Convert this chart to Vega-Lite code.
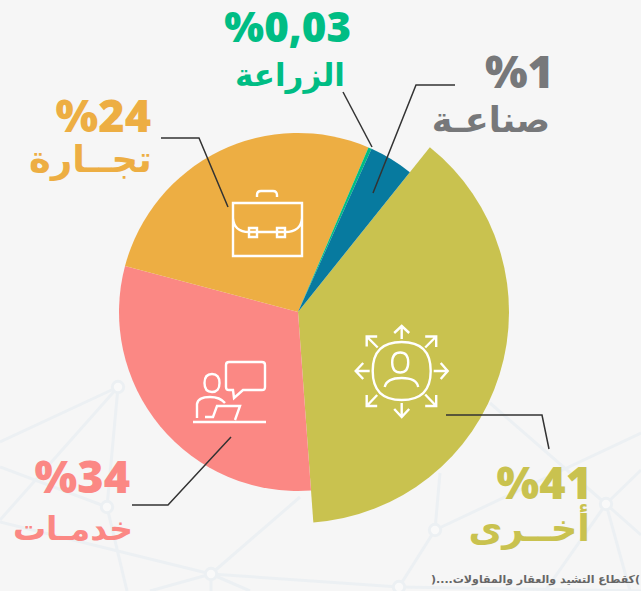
{"$schema":"https://vega.github.io/schema/vega-lite/v6.json","width":641,"height":591,"padding":0,"autosize":"none","background":"#f6f6f6","config":{"view":{"stroke":null},"axis":{"disable":true}},
"datasets":{
"slices":[{"name":"أخرى","share":41,"drawn":38.1,"rank":1},{"name":"خدمات","share":34,"drawn":30.3,"rank":2},{"name":"تجارة","share":24,"drawn":27.3,"rank":3},{"name":"الزراعة","share":0.03,"drawn":0.3,"rank":4},{"name":"صناعة","share":1,"drawn":4,"rank":5}],
"pct":[{"name":"أخرى","t":"%41","a":592,"b":499},{"name":"خدمات","t":"%34","a":130,"b":493},{"name":"تجارة","t":"%24","a":151,"b":132},{"name":"الزراعة","t":"%0,03","a":351,"b":42},{"name":"صناعة","t":"%1","a":554,"b":88}],
"names":[{"name":"أخرى","t":"أخــرى","a":590,"b":541},{"name":"خدمات","t":"خدمـات","a":133,"b":540},{"name":"تجارة","t":"تجــارة","a":152,"b":172},{"name":"الزراعة","t":"الزراعة","a":345,"b":86},{"name":"صناعة","t":"صناعـة","a":550,"b":132}],
"leaders":[{"k":"a","i":1,"a":446,"b":415},{"k":"a","i":2,"a":542,"b":415},{"k":"a","i":3,"a":549,"b":449},{"k":"b","i":1,"a":132,"b":505},{"k":"b","i":2,"a":168,"b":505},{"k":"b","i":3,"a":231,"b":437},{"k":"c","i":1,"a":161,"b":138},{"k":"c","i":2,"a":199,"b":138},{"k":"c","i":3,"a":228,"b":207},{"k":"d","i":1,"a":343,"b":92},{"k":"d","i":2,"a":372,"b":147},{"k":"e","i":1,"a":455,"b":85},{"k":"e","i":2,"a":416,"b":85},{"k":"e","i":3,"a":373,"b":193}],
"net":[{"a":118,"b":387,"a2":0,"b2":442},{"a":118,"b":387,"a2":0,"b2":520},{"a":118,"b":387,"a2":107,"b2":507},{"a":107,"b":507,"a2":0,"b2":467},{"a":107,"b":507,"a2":127,"b2":591},{"a":0,"b":522,"a2":211,"b2":574},{"a":211,"b":574,"a2":300,"b2":497},{"a":211,"b":574,"a2":399,"b2":587},{"a":211,"b":574,"a2":150,"b2":591},{"a":211,"b":574,"a2":250,"b2":591},{"a":211,"b":574,"a2":211,"b2":591},{"a":435,"b":530,"a2":641,"b2":433},{"a":435,"b":530,"a2":440,"b2":473},{"a":435,"b":530,"a2":399,"b2":587},{"a":490,"b":403,"a2":606,"b2":504},{"a":606,"b":504,"a2":641,"b2":470},{"a":606,"b":504,"a2":641,"b2":535},{"a":606,"b":504,"a2":630,"b2":591},{"a":606,"b":504,"a2":545,"b2":591},{"a":399,"b":587,"a2":641,"b2":591}],
"nodes":[{"a":118,"b":387},{"a":107,"b":507},{"a":211,"b":574},{"a":435,"b":530},{"a":606,"b":504},{"a":399,"b":587}],
"icons":[{"name":"تجارة","a":267,"b":223},{"name":"خدمات","a":230,"b":392},{"name":"أخرى","a":401.7,"b":371}],
"note":[{"t":")....كقطاع التشيد والعقار والمقاولات(","a":640,"b":583}]
},
"encoding":{"x":{"field":"a","type":"quantitative","scale":{"domain":[0,641]},"axis":null},"y":{"field":"b","type":"quantitative","scale":{"domain":[591,0]},"axis":null},
"color":{"field":"name","type":"nominal","legend":null,"scale":{"domain":["أخرى","خدمات","تجارة","الزراعة","صناعة"],"range":["#c9c24f","#fb8884","#edae43","#00bd84","#77787a"]}}},
"layer":[
{"data":{"name":"net"},"mark":{"type":"rule","strokeWidth":3},"encoding":{"x2":{"field":"a2"},"y2":{"field":"b2"},"color":{"value":"#ecf0f3"}}},
{"data":{"name":"nodes"},"mark":{"type":"point","filled":true,"strokeWidth":3,"size":130,"opacity":1},"encoding":{"color":{"value":"#f9f9f9"},"stroke":{"value":"#ecf0f3"}}},
{"data":{"name":"slices"},"transform":[{"stack":"drawn","groupby":[],"sort":[{"field":"rank","order":"ascending"}],"as":["t0","t1"]}],"mark":{"type":"arc","x":298,"y":312},"encoding":{"x":null,"y":null,"color":null,"theta":{"field":"t0","type":"quantitative","stack":null,"scale":{"domain":[0,100],"range":[0.675,6.958]}},"theta2":{"field":"t1"},"radius":{"field":"share","type":"quantitative","scale":{"type":"linear","domain":[34,41],"range":[179,211],"clamp":true}},"radius2":{"value":0},"fill":{"field":"name","type":"nominal","legend":null,"scale":{"domain":["أخرى","خدمات","تجارة","الزراعة","صناعة"],"range":["#c9c24f","#fb8884","#edae43","#00bd84","#077a9f"]}}}},
{"data":{"name":"icons"},"mark":{"type":"point","filled":false,"strokeWidth":2.4,"size":10000,"opacity":1,"strokeJoin":"miter"},"encoding":{"color":{"value":"#ffffff"},"shape":{"field":"name","type":"nominal","legend":null,"scale":{"domain":["تجارة","خدمات","أخرى"],"range":["M-.68 -.4 L.7 -.4 L.7 .66 L-.68 .66 Z M-.2 -.52 L-.2 -.56 Q-.2 -.64 -.12 -.64 L.12 -.64 Q.2 -.64 .2 -.56 L.2 -.52 M-.68 -.1 Q-.66 .18 -.36 .18 L.36 .18 Q.68 .18 .7 -.1 M-.36 .1 L-.2 .1 L-.2 .28 L-.36 .28 Z M.2 .1 L.36 .1 L.36 .28 L.2 .28 Z","M-.74 .6 L.72 .6 M-.02 -.6 L.64 -.6 Q.7 -.6 .7 -.54 L.7 -.1 Q.7 -.04 .64 -.04 L.26 -.04 L.08 .12 L.06 -.04 L-.02 -.04 Q-.08 -.04 -.08 -.1 L-.08 -.54 Q-.08 -.6 -.02 -.6 Z M-.51 -.18 Q-.51 -.36 -.36 -.36 Q-.21 -.36 -.21 -.18 Q-.21 0 -.36 0 Q-.51 0 -.51 -.18 Z M-.66 .52 L-.66 .24 Q-.64 .1 -.4 .1 Q-.2 .1 -.1 .22 M-.5 .5 L-.34 .5 L-.26 .28 L.2 .28 L.1 .56","M-.58 0 Q-.58 -.58 0 -.58 Q.58 -.58 .58 0 Q.58 .58 0 .58 Q-.58 .58 -.58 0 Z M-.19 -.17 Q-.19 -.37 -.03 -.37 Q.13 -.37 .13 -.17 Q.13 .03 -.03 .03 Q-.19 .03 -.19 -.17 Z M-.34 .32 Q-.3 .14 0 .14 Q.3 .14 .33 .32 M0 -.64 L0 -.9 M-.15 -.76 L0 -.9 L.15 -.76 M0 .64 L0 .92 M-.15 .76 L0 .92 L.15 .76 M-.64 0 L-.92 0 M-.77 -.16 L-.92 0 L-.77 .16 M.64 0 L.92 0 M.78 -.16 L.92 0 L.78 .16 M-.48 -.47 L-.7 -.69 M-.7 -.49 L-.7 -.69 L-.49 -.69 M.47 -.47 L.69 -.69 M.47 -.69 L.69 -.69 L.69 -.48 M-.49 .48 L-.7 .7 M-.7 .48 L-.7 .7 L-.49 .7 M.47 .47 L.69 .7 M.69 .48 L.69 .7 L.47 .7"]}}}},
{"data":{"name":"leaders"},"mark":{"type":"line","strokeWidth":1.5,"strokeJoin":"miter"},"encoding":{"color":{"value":"#333333"},"detail":{"field":"k"},"order":{"field":"i","type":"quantitative"}}},
{"data":{"name":"pct"},"transform":[{"filter":"datum.t !== '%0,03'"}],"mark":{"type":"text","align":"right","baseline":"alphabetic","font":"Open Sans","fontWeight":800,"fontSize":45},"encoding":{"text":{"field":"t"}}},
{"data":{"name":"pct"},"transform":[{"filter":"datum.t === '%0,03'"}],"mark":{"type":"text","align":"right","baseline":"alphabetic","font":"Open Sans","fontWeight":800,"fontSize":42},"encoding":{"text":{"field":"t"}}},
{"data":{"name":"names"},"transform":[{"filter":"datum.name === 'أخرى' || datum.name === 'تجارة'"}],"mark":{"type":"text","align":"right","baseline":"alphabetic","font":"DejaVu Sans","fontWeight":"bold","fontSize":37},"encoding":{"text":{"field":"t"}}},
{"data":{"name":"names"},"transform":[{"filter":"datum.name === 'صناعة'"}],"mark":{"type":"text","align":"right","baseline":"alphabetic","font":"DejaVu Sans","fontWeight":"bold","fontSize":35},"encoding":{"text":{"field":"t"}}},
{"data":{"name":"names"},"transform":[{"filter":"datum.name === 'خدمات'"}],"mark":{"type":"text","align":"right","baseline":"alphabetic","font":"DejaVu Sans","fontWeight":"bold","fontSize":33},"encoding":{"text":{"field":"t"}}},
{"data":{"name":"names"},"transform":[{"filter":"datum.name === 'الزراعة'"}],"mark":{"type":"text","align":"right","baseline":"alphabetic","font":"DejaVu Sans","fontWeight":"bold","fontSize":31},"encoding":{"text":{"field":"t"}}},
{"data":{"name":"note"},"mark":{"type":"text","align":"right","baseline":"alphabetic","font":"DejaVu Sans","fontWeight":"bold","fontSize":11},"encoding":{"text":{"field":"t"},"color":{"value":"#666666"}}}
]}
